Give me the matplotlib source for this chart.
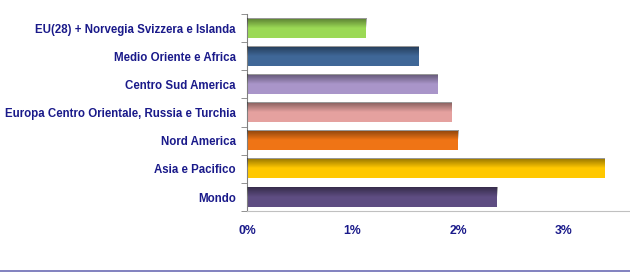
import numpy as np
import matplotlib
matplotlib.use("Agg")
import matplotlib.pyplot as plt
from matplotlib.ticker import FuncFormatter

# ---------------------------------------------------------------------------
# Data (growth rate, %)
# ---------------------------------------------------------------------------
regions = [
    "Mondo",
    "Asia e Pacifico",
    "Nord America",
    "Europa Centro Orientale, Russia e Turchia",
    "Centro Sud America",
    "Medio Oriente e Africa",
    "EU(28) + Norvegia Svizzera e Islanda",
]
growth = [2.37, 3.39, 2.00, 1.94, 1.81, 1.63, 1.13]
colors = ["#5e4d82", "#ffc800", "#ef7415", "#e5a19f", "#a995c9", "#3f6797", "#9bd955"]
x_ticks = [0, 1, 2, 3]

navy = "#1a1a8a"
plt.rcParams["font.family"] = ["Liberation Sans", "DejaVu Sans"]

fig = plt.figure(figsize=(6.3, 2.8), dpi=100)
ax = fig.add_axes([0.392, 0.246, 0.608, 0.704])

y = np.arange(len(regions))
bh = 0.68
bars = ax.barh(y, growth, height=bh, color=colors, edgecolor="none", zorder=2)

# vertical shading on each bar: dark at the top edge, fading downwards
shade = np.zeros((50, 1, 4))
shade[:, 0, 3] = np.clip(0.42 * (1 - np.linspace(0, 1, 50) / 0.5), 0, None)
for b in bars:
    x0, y0 = b.get_x(), b.get_y()
    ax.imshow(shade, extent=(x0, x0 + b.get_width(), y0, y0 + b.get_height()),
              aspect="auto", origin="upper", zorder=3, interpolation="bilinear")

ax.set_ylim(-0.5, len(regions) - 0.5)
ax.set_xlim(0, 3.63)
ax.set_yticks(y)
ax.set_yticklabels(regions, fontsize=8.3, fontweight="bold", color=navy)
ax.set_yticks(np.arange(-0.5, len(regions), 1), minor=True)
ax.tick_params(axis="y", which="major", length=0, pad=8)
ax.tick_params(axis="y", which="minor", length=4, color="#808080", direction="out")

ax.set_xticks(x_ticks)
ax.xaxis.set_major_formatter(FuncFormatter(lambda v, p: f"{v:.0f}%"))
ax.tick_params(axis="x", length=0, pad=10, labelsize=8.8, labelcolor=navy)
for lab in ax.get_xticklabels():
    lab.set_fontweight("bold")

for s in ["top", "right"]:
    ax.spines[s].set_visible(False)
ax.spines["left"].set_color("#808080")
ax.spines["bottom"].set_color("#c0c0c0")

# thin blue rule along the bottom of the slide
fig.add_artist(plt.Line2D([0, 1], [1 - 271 / 280] * 2, color="#6c6cb4", lw=1.2,
                          transform=fig.transFigure))

fig.savefig("out.png", dpi=100)
